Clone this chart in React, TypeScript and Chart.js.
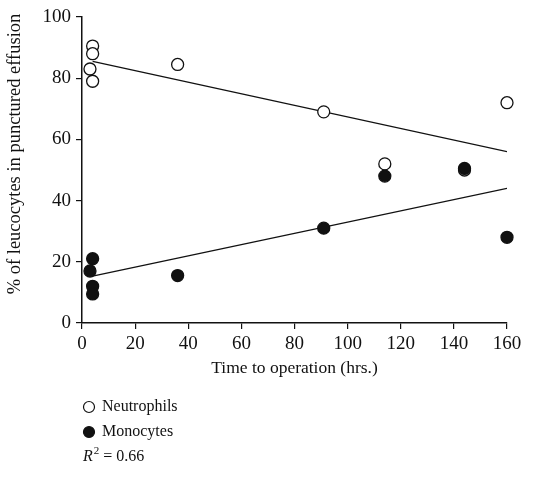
import React, { useEffect, useRef } from "react";
import { Chart, registerables } from "chart.js";

Chart.register(...registerables);

const timeNeutro = [4, 4, 3, 4, 36, 91, 114, 144, 160];
const neutrophils = [90.5, 88, 83, 79, 84.5, 69, 52, 50, 72];
const timeMono = [4, 3, 4, 4, 36, 91, 114, 144, 160];
const monocytes = [21, 17, 12, 9.5, 15.5, 31, 48, 50.5, 28];
const trendTime = [4, 160];
const neutroTrend = [85.5, 56];
const monoTrend = [15.3, 44];
const legendLabels = ["Neutrophils", "Monocytes"];
const r2Text = "= 0.66";
const yTitle = "% of leucocytes in punctured effusion";

const FONT = "'Liberation Serif', 'DejaVu Serif', serif";

function toPoints(xs: number[], ys: number[]) {
  return xs.map((x, i) => ({ x, y: ys[i] }));
}

const legendPlugin = {
  id: "customLegend",
  afterDraw(chart: any) {
    const ctx = chart.ctx as CanvasRenderingContext2D;
    const left = chart.chartArea.left;
    const baseY = chart.chartArea.bottom + 84;
    ctx.save();
    // y axis title
    ctx.save();
    ctx.translate(15, 154);
    ctx.rotate(-Math.PI / 2);
    ctx.font = `18.5px ${FONT}`;
    ctx.textAlign = "center";
    ctx.textBaseline = "middle";
    ctx.fillStyle = "#111";
    ctx.fillText(yTitle, 0, 0);
    ctx.restore();

    ctx.font = `16px ${FONT}`;
    ctx.textBaseline = "middle";
    ctx.textAlign = "left";
    ctx.fillStyle = "#111";
    legendLabels.forEach((lab, i) => {
      const y = baseY + i * 25;
      ctx.beginPath();
      ctx.arc(left + 7, y, 5.5, 0, Math.PI * 2);
      ctx.lineWidth = 1.2;
      ctx.strokeStyle = "#111";
      ctx.fillStyle = i === 0 ? "#fff" : "#111";
      ctx.fill();
      ctx.stroke();
      ctx.fillStyle = "#111";
      ctx.fillText(lab, left + 20, y);
    });
    const y3 = baseY + 50;
    ctx.font = `italic 16px ${FONT}`;
    ctx.fillText("R", left + 1, y3);
    const rw = ctx.measureText("R").width;
    ctx.font = `11px ${FONT}`;
    ctx.fillText("2", left + 1 + rw + 1, y3 - 6);
    const tw = ctx.measureText("2").width;
    ctx.font = `16px ${FONT}`;
    ctx.fillText(" " + r2Text, left + 1 + rw + 1 + tw, y3);
    ctx.restore();
  },
};

export default function App() {
  const ref = useRef<HTMLCanvasElement>(null);
  useEffect(() => {
    document.body.style.margin = "0";
    const c = ref.current!;
    const chart = new Chart(c, {
      type: "scatter",
      data: {
        datasets: [
          {
            label: "Monocytes",
            data: toPoints(timeMono, monocytes),
            pointRadius: 6,
            pointBackgroundColor: "#111",
            pointBorderColor: "#111",
            pointBorderWidth: 1.3,
            clip: false,
          },
          {
            label: "Neutrophils",
            data: toPoints(timeNeutro, neutrophils),
            pointRadius: 6,
            pointBackgroundColor: "#fff",
            pointBorderColor: "#111",
            pointBorderWidth: 1.3,
            clip: false,
          },
          {
            label: "Neutrophil trend",
            data: toPoints(trendTime, neutroTrend),
            showLine: true,
            pointRadius: 0,
            borderColor: "#111",
            borderWidth: 1.3,
          },
          {
            label: "Monocyte trend",
            data: toPoints(trendTime, monoTrend),
            showLine: true,
            pointRadius: 0,
            borderColor: "#111",
            borderWidth: 1.3,
          },
        ] as any,
      },
      options: {
        animation: false,
        responsive: false,
        maintainAspectRatio: false,
        layout: { padding: { top: 17, right: 52, bottom: 100, left: 0 } },
        plugins: {
          legend: { display: false },
          tooltip: { enabled: false },
        },
        scales: {
          x: {
            type: "linear",
            min: 0,
            max: 160,
            ticks: { stepSize: 20, color: "#111", font: { family: FONT, size: 19 }, padding: 4 },
            grid: { drawOnChartArea: false, drawTicks: true, tickLength: 6, color: "#111", lineWidth: 1.2 },
            border: { display: true, color: "#111", width: 1.5 },
            title: {
              display: true,
              text: "Time to operation (hrs.)",
              color: "#111",
              font: { family: FONT, size: 17.5 },
              padding: { top: 0, bottom: 0 },
            },
            afterFit: (s: any) => {
              s.height = 56;
            },
          },
          y: {
            type: "linear",
            min: 0,
            max: 100,
            ticks: { stepSize: 20, color: "#111", font: { family: FONT, size: 19 }, padding: 5 },
            grid: { drawOnChartArea: false, drawTicks: true, tickLength: 6, color: "#111", lineWidth: 1.2 },
            border: { display: true, color: "#111", width: 1.5 },
            title: { display: false },
            afterFit: (s: any) => {
              s.width = 82;
            },
          },
        },
      },
      plugins: [legendPlugin],
    });
    return () => chart.destroy();
  }, []);
  return (
    <div>
      <canvas ref={ref} width={559} height={479} style={{ display: "block" }} />
    </div>
  );
}
